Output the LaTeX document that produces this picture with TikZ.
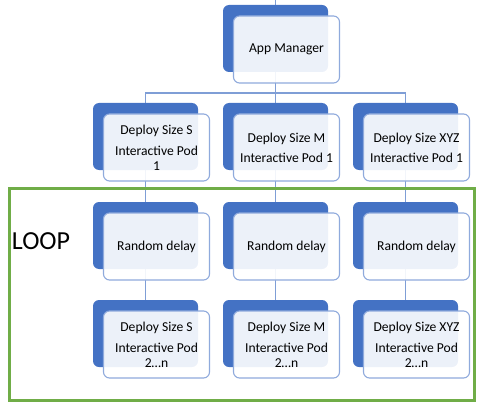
\documentclass[tikz,border=0pt]{standalone}
\usepackage{fontspec}
\setmainfont{Carlito}
\usepackage{xcolor}
\usepackage{tikz}
\usetikzlibrary{arrows.meta,positioning,backgrounds}
\definecolor{Block}{HTML}{4472C4}
\definecolor{Edge}{HTML}{8FAADC}
\definecolor{Wire}{HTML}{7F9ED6}
\definecolor{Loop}{HTML}{70AD47}

\begin{document}
\begin{tikzpicture}[x=1pt,y=-1pt,font=\fontsize{13.6}{15}\selectfont,>=Latex]
  \tikzstyle{back}=[fill=Block,rounded corners=6pt,minimum width=105pt,minimum height=67pt,inner sep=0pt]
  \tikzstyle{card}=[draw=Edge,line width=1.1pt,fill=white,fill opacity=0.9,text opacity=1,rounded corners=6pt,minimum width=106pt,minimum height=67pt,inner sep=0pt,align=center,xshift=11pt,yshift=-11pt]
  \tikzstyle{wire}=[draw=Wire,line width=1.3pt]
  \useasboundingbox (0,0) rectangle (481,414);
  \node[back] (amb) at (275.5,38.5) {};
  \node[card] (am) at (amb) {App Manager};
  \node[back] (s1b) at (145.5,136.5) {};
  \node[card] (s1) at (s1b) {Deploy Size S\\[6pt]Interactive Pod\\1};
  \node[back] (s2b) at (275.5,136.5) {};
  \node[card] (s2) at (s2b) {Deploy Size M\\[5pt]Interactive Pod 1};
  \node[back] (s3b) at (405.5,136.5) {};
  \node[card] (s3) at (s3b) {Deploy Size XYZ\\[5pt]Interactive Pod 1};
  \node[back] (d1b) at (145.5,235.5) {};
  \node[card] (d1) at (d1b) {Random delay};
  \node[back] (d2b) at (275.5,235.5) {};
  \node[card] (d2) at (d2b) {Random delay};
  \node[back] (d3b) at (405.5,235.5) {};
  \node[card] (d3) at (d3b) {Random delay};
  \node[back] (n1b) at (145.5,333.5) {};
  \node[card] (n1) at (n1b) {Deploy Size S\\[6pt]Interactive Pod\\2…n};
  \node[back] (n2b) at (275.5,333.5) {};
  \node[card] (n2) at (n2b) {Deploy Size M\\[6pt]Interactive Pod\\2…n};
  \node[back] (n3b) at (405.5,333.5) {};
  \node[card] (n3) at (n3b) {Deploy Size XYZ\\[6pt]Interactive Pod\\2…n};
  \coordinate (in) at (275.5,0);
  \node[font=\fontsize{26}{30}\selectfont] (loop) at (41,241) {LOOP};
  \draw[Loop,line width=3pt] (9,188) rectangle (474,400);
  \begin{scope}[on background layer]
    \draw[wire] (in) -- (amb);
    \draw[wire] (amb) -- ++(0,54.5) -| (s1b);
    \draw[wire] (amb) -- (s2b);
    \draw[wire] (amb) -- ++(0,54.5) -| (s3b);
    \foreach \c in {1,2,3} {
      \draw[wire] (s\c b) -- (d\c b);
      \draw[wire] (d\c b) -- (n\c b);
    }
  \end{scope}
\end{tikzpicture}
\end{document}
